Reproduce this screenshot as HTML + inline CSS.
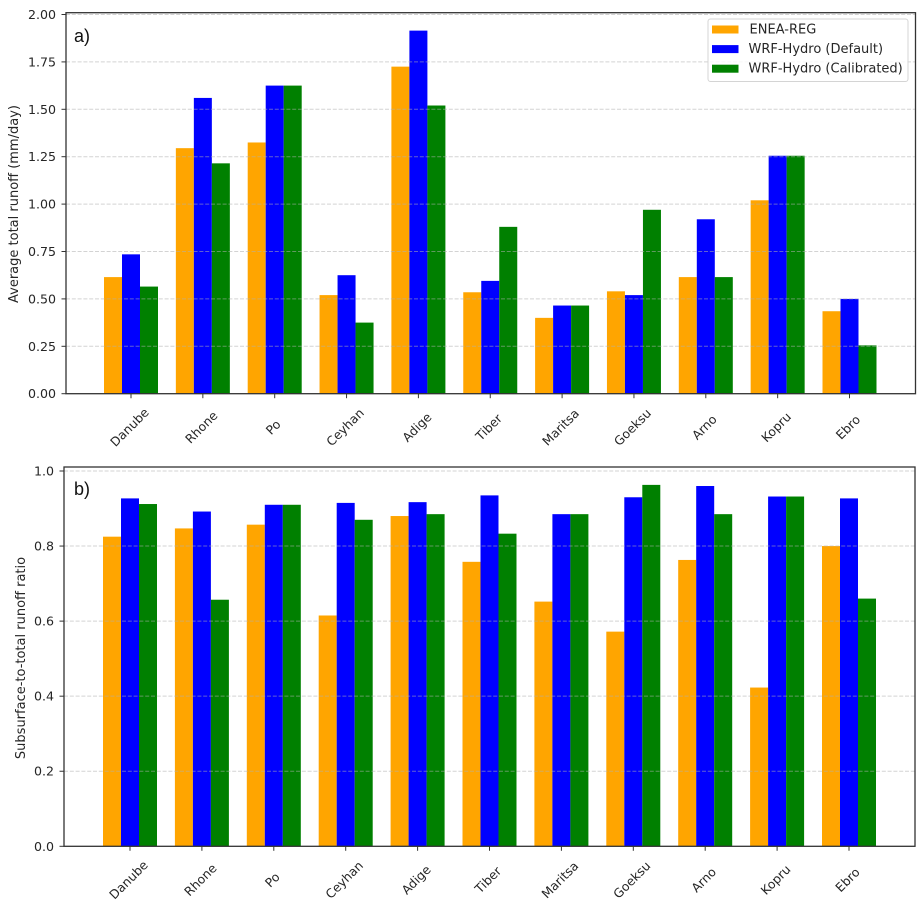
<!DOCTYPE html>
<html lang="en">
<head>
<meta charset="utf-8">
<title>Runoff comparison chart</title>
<style>
html,body{margin:0;padding:0;background:#fff;}
#chart{display:block;width:923px;height:909px;filter:blur(0.35px);}
text{font-family:"DejaVu Sans","Liberation Sans",sans-serif;fill:#262626;}
.tick-label{font-size:12.6px;}
.x-label{font-size:12.4px;}
.wide-label{font-size:13px;}
.panel-letter{font-family:"Liberation Sans",sans-serif;font-size:18px;fill:#111;}
</style>
</head>
<body>
<svg id="chart" xmlns="http://www.w3.org/2000/svg" width="923" height="909" viewBox="0 0 923 909"></svg>
<script>
const categories = ["Danube","Rhone","Po","Ceyhan","Adige","Tiber","Maritsa","Goeksu","Arno","Kopru","Ebro"];
const seriesNames = ["ENEA-REG","WRF-Hydro (Default)","WRF-Hydro (Calibrated)"];
const seriesSlugs = ["enea-reg","wrf-hydro-default","wrf-hydro-calibrated"];
const seriesColors = ["#ffa500","#0000ff","#008000"];

const runoffEnea = [0.615,1.295,1.325,0.52,1.725,0.535,0.40,0.54,0.615,1.02,0.435];
const runoffDefault = [0.735,1.56,1.625,0.625,1.915,0.595,0.465,0.52,0.92,1.255,0.50];
const runoffCalibrated = [0.565,1.215,1.625,0.375,1.52,0.88,0.465,0.97,0.615,1.255,0.255];
const runoffTicks = [0,0.25,0.5,0.75,1,1.25,1.5,1.75,2];
const runoffTickLabels = ["0.00","0.25","0.50","0.75","1.00","1.25","1.50","1.75","2.00"];

const ratioEnea = [0.825,0.847,0.857,0.615,0.88,0.758,0.652,0.572,0.763,0.423,0.80];
const ratioDefault = [0.927,0.892,0.91,0.915,0.917,0.935,0.885,0.93,0.96,0.932,0.927];
const ratioCalibrated = [0.912,0.657,0.91,0.87,0.885,0.833,0.885,0.963,0.885,0.932,0.66];
const ratioTicks = [0,0.2,0.4,0.6,0.8,1];
const ratioTickLabels = ["0.0","0.2","0.4","0.6","0.8","1.0"];

const svg = document.getElementById('chart');
const NS = 'http://www.w3.org/2000/svg';

function make(tag, attrs, parent, text) {
  const el = document.createElementNS(NS, tag);
  for (const k in attrs) el.setAttribute(k, attrs[k]);
  if (text !== undefined) el.textContent = text;
  (parent || svg).appendChild(el);
  return el;
}

function drawPanel(cfg) {
  const group = make('g', {});
  
  

  const yScale = v => cfg.y0 - v * cfg.yPerUnit;
  const xScale = i => cfg.x0 + i * cfg.xStep;

  // Bars
  cfg.series.forEach((vals, s) => {
    vals.forEach((v, i) => {
      const top = yScale(v);
      const bar = make('rect', {
        x: xScale(i) + (s - 1.5) * cfg.barW,
        y: top,
        width: cfg.barW,
        height: cfg.y0 - top,
        fill: seriesColors[s]
      }, group);
      
      
    });
  });

  // Gridlines and y ticks
  cfg.ticks.forEach((t, i) => {
    const y = yScale(t);
    if (t > 0) {
      const grid = make('line', {
        x1: cfg.left, x2: cfg.right, y1: y, y2: y,
        stroke: '#b0b0b0', 'stroke-width': 1, 'stroke-dasharray': '4 1.8', opacity: 0.55
      }, group);
      
      
    }
    const tick = make('line', {
      x1: cfg.left - 4.5, x2: cfg.left, y1: y, y2: y,
      stroke: '#333', 'stroke-width': 1
    }, group);
    
    
    const label = make('text', {
      x: cfg.left - 10, y: y, 'text-anchor': 'end', 'dominant-baseline': 'central', class: 'tick-label'
    }, group, cfg.tickLabels[i]);
    
    
  });

  // X ticks and category labels
  categories.forEach((c, i) => {
    const x = xScale(i);
    const tick = make('line', {
      x1: x, x2: x, y1: cfg.y0, y2: cfg.y0 + 4.5,
      stroke: '#333', 'stroke-width': 1
    }, group);
    
    
    const labelGroup = make('g', {
      transform: 'translate(' + (x - 1.5) + ' ' + (cfg.y0 + cfg.xLabelDy) + ') rotate(-45)'
    }, group);
    
    
    const label = make('text', {
      x: 0, y: 4.4, 'text-anchor': 'middle', class: 'x-label'
    }, labelGroup, c);
    
    
  });

  // Axes frame
  const frame = make('rect', {
    x: cfg.left, y: cfg.top, width: cfg.right - cfg.left, height: cfg.y0 - cfg.top,
    fill: 'none', stroke: '#333', 'stroke-width': 1.3
  }, group);
  
  

  // Y title
  const title = make('text', {
    x: cfg.titleX, y: cfg.titleY, 'text-anchor': 'middle', 'dominant-baseline': 'central', class: 'wide-label',
    transform: 'rotate(-90 ' + cfg.titleX + ' ' + cfg.titleY + ')'
  }, group, cfg.title);
  
  

  // Panel letter
  const letter = make('text', {
    x: 74, y: cfg.letterY, class: 'panel-letter', 'dominant-baseline': 'central'
  }, group, cfg.letter);
  
  
}

drawPanel({
  slug: 'runoff', letter: 'a)', letterY: 36,
  left: 66, right: 915.5, top: 12.7, y0: 393.7, yPerUnit: 189.6,
  x0: 131, xStep: 71.85, barW: 18, xLabelDy: 33.5,
  series: [runoffEnea, runoffDefault, runoffCalibrated],
  ticks: runoffTicks, tickLabels: runoffTickLabels,
  title: 'Average total runoff (mm/day)', titleX: 14.5, titleY: 204
});

drawPanel({
  slug: 'ratio', letter: 'b)', letterY: 489,
  left: 64, right: 915, top: 467, y0: 846.3, yPerUnit: 375.3,
  x0: 130, xStep: 71.9, barW: 18, xLabelDy: 33.5,
  series: [ratioEnea, ratioDefault, ratioCalibrated],
  ticks: ratioTicks, tickLabels: ratioTickLabels,
  title: 'Subsurface-to-total runoff ratio', titleX: 21.5, titleY: 658
});

// Legend
const legend = make('g', {});


const legendBox = make('rect', {
  x: 708, y: 19, width: 200, height: 62.5, rx: 2.5,
  fill: '#fff', 'fill-opacity': 0.85, stroke: '#d4d4d4', 'stroke-width': 1
}, legend);


seriesNames.forEach((n, s) => {
  const cy = 29.5 + s * 19.6;
  const swatch = make('rect', {
    x: 712, y: cy - 4, width: 26.5, height: 8, fill: seriesColors[s]
  }, legend);
  
  
  const label = make('text', {
    x: s === 0 ? 749.5 : 748.5, y: cy + 0.5, 'dominant-baseline': 'central', class: 'wide-label'
  }, legend, n);
  
  
});
</script>
</body>
</html>
